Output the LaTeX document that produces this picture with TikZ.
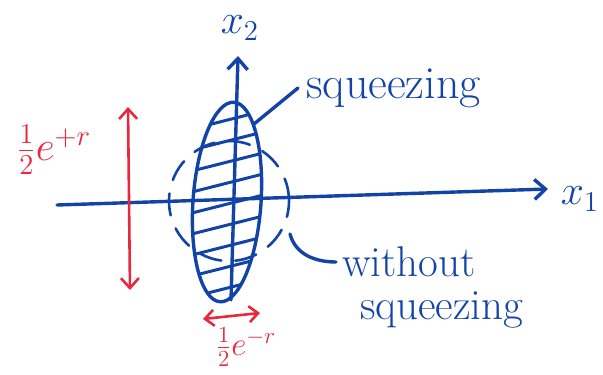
\documentclass[tikz,border=0pt]{standalone}
\usepackage{graphicx}
\usetikzlibrary{arrows.meta}
\definecolor{penblue}{RGB}{18,68,168}
\definecolor{penred}{RGB}{232,40,60}
\tikzset{
  bl/.style={draw=penblue,line width=3.4pt,line cap=round,line join=round},
  rd/.style={draw=penred,line width=2.6pt,line cap=round},
  bluetxt/.style={text=penblue,font=\fontsize{46}{48}\selectfont,inner sep=0pt},
  bluetxtb/.style={text=penblue,font=\fontsize{43}{45}\selectfont,inner sep=0pt},
  axtxt/.style={text=penblue,font=\fontsize{20}{22}\selectfont,inner sep=0pt},
  redtxt/.style={text=penred,font=\fontsize{20}{22}\selectfont,inner sep=0pt},
  tip/.style={-{Straight Barb[length=11pt,width=20pt]}},
}
\begin{document}
\begin{tikzpicture}[x=1pt,y=-1pt]
\useasboundingbox (0,0) rectangle (603,375);
% coordinates
\coordinate (x1s) at (57,205);
\coordinate (x1e) at (548,189);
\coordinate (x2s) at (231,300);
\coordinate (x2e) at (238,56);
\coordinate (c) at (227,202);
% hatched ellipse
\begin{scope}
  \clip[rotate around={-4:(c)}] (c) ellipse [x radius=34, y radius=100];
  \foreach \k in {-5,...,5} {
    \draw[penblue,line width=3pt] (180,{204+\k*21+12}) -- (275,{204+\k*21-12});
  }
\end{scope}
\draw[bl,rotate around={-4:(c)}] (c) ellipse [x radius=34, y radius=100];
% dashed circle (without squeezing)
\draw[bl,line width=2.6pt,dash pattern=on 22pt off 14pt,dash phase=6pt] (229,201) circle [radius=60];
% axes
\draw[bl,tip] (x1s) -- (x1e);
\draw[bl,tip] (x2s) -- (x2e);
\node[axtxt] (lx1) at (580,199) {\scalebox{2}{$x_1$}};
\node[axtxt] (lx2) at (240,28) {\scalebox{2}{$x_2$}};
% labels with leaders
\node[bluetxt,anchor=west] (sq) at (306,88) {squeezing};
\coordinate (sqa) at (254,124);
\draw[bl] (sqa) -- ([xshift=-8pt]sq.west);
\node[bluetxtb,anchor=west] (wo) at (342,262) {without};
\node[bluetxtb,anchor=west] (wsq) at (360,310) {squeezing};
\coordinate (wsa) at (290,234);
\draw[bl] (wsa) to[out=-75,in=180] ([xshift=-6pt]wo.west);
% red arrows
\coordinate (va) at (130,290);
\coordinate (vb) at (128,107);
\draw[rd,{Straight Barb[length=10pt,width=18pt]}-{Straight Barb[length=10pt,width=18pt]}] (va) -- (vb);
\node[redtxt] (er) at (54,150) {\scalebox{2}{$\frac12 e^{+r}$}};
\coordinate (ha) at (203,319);
\coordinate (hb) at (260,313);
\draw[rd,{Straight Barb[length=9pt,width=16pt]}-{Straight Barb[length=9pt,width=16pt]}] (ha) -- (hb);
\node[redtxt] (el) at (246,347) {\scalebox{1.6}{$\frac12 e^{-r}$}};
\end{tikzpicture}
\end{document}
